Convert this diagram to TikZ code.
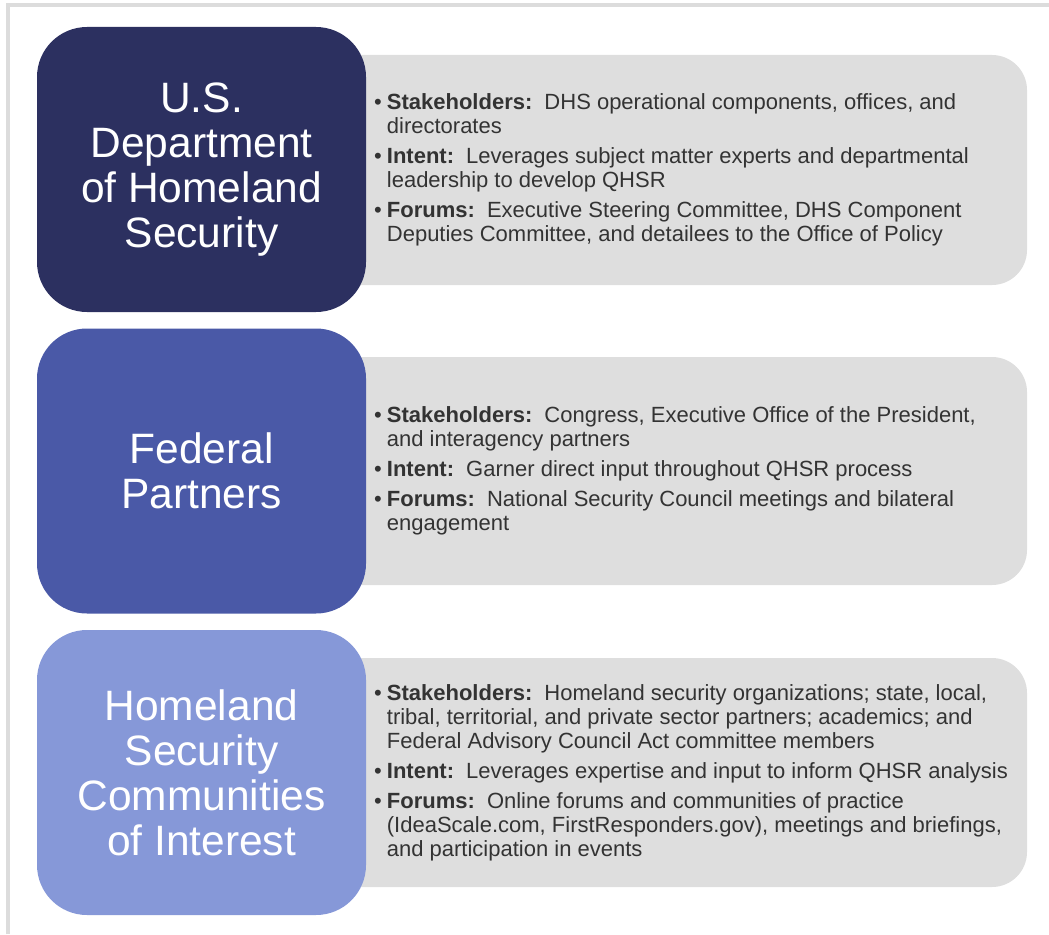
\documentclass[tikz,border=0pt]{standalone}
\usepackage{fontspec}
\setmainfont{Liberation Sans}
\definecolor{dhsnavy}{HTML}{2C3060}
\definecolor{fedblue}{HTML}{4A59A7}
\definecolor{coiblue}{HTML}{8698D8}
\definecolor{panelgray}{HTML}{DEDEDE}
\definecolor{framegray}{HTML}{DCDCDC}
\definecolor{textgray}{HTML}{333333}
\tikzset{
  unit/.style={rounded corners=50pt, minimum width=329pt, minimum height=285pt, inner sep=0pt,
    text=white, align=center, font=\fontsize{42.5}{45}\selectfont},
  info/.style={fill=panelgray, rounded corners=35pt, minimum width=727pt, inner sep=0pt},
  infotext/.style={anchor=west, inner sep=0pt, text=textgray, font=\fontsize{22}{24}\selectfont}
}
\newcommand{\lbl}[1]{\textbf{#1:}\hspace{0.55em}}

\begin{document}
\begin{tikzpicture}[x=1pt, y=-1pt]
  \useasboundingbox (0,0) rectangle (1049,934);
  \draw[framegray, line width=4pt] (8,934) -- (8,5.5) -- (1049,5.5);
  \node[info, minimum height=230pt] (dhsinfo) at (663.5,170) {};
  \node[info, minimum height=228pt] (fedinfo) at (663.5,471) {};
  \node[info, minimum height=229pt] (coiinfo) at (663.5,772.5) {};
  \node[unit, fill=dhsnavy] (dhs) at (201.5,169.5) {U.S.\\Department\\of Homeland\\Security};
  \node[unit, fill=fedblue] (fed) at (201.5,471) {Federal\\Partners};
  \node[unit, fill=coiblue] (coi) at (201.5,772.5) {Homeland\\Security\\Communities\\of Interest};
  \node[infotext] (dhstext) at (374,171) {\begin{tabular}{@{}l@{\hspace{5pt}}l@{}}
    \textbullet & \lbl{Stakeholders}DHS operational components, offices, and\\
    & directorates\\[6pt]
    \textbullet & \lbl{Intent}Leverages subject matter experts and departmental\\
    & leadership to develop QHSR\\[6pt]
    \textbullet & \lbl{Forums}Executive Steering Committee, DHS Component\\
    & Deputies Committee, and detailees to the Office of Policy
  \end{tabular}};
  \node[infotext] (fedtext) at (374,472) {\begin{tabular}{@{}l@{\hspace{5pt}}l@{}}
    \textbullet & \lbl{Stakeholders}Congress, Executive Office of the President,\\
    & and interagency partners\\[6pt]
    \textbullet & \lbl{Intent}Garner direct input throughout QHSR process\\[6pt]
    \textbullet & \lbl{Forums}National Security Council meetings and bilateral\\
    & engagement
  \end{tabular}};
  \node[infotext] (coitext) at (374,773.5) {\begin{tabular}{@{}l@{\hspace{5pt}}l@{}}
    \textbullet & \lbl{Stakeholders}Homeland security organizations; state, local,\\
    & tribal, territorial, and private sector partners; academics; and\\
    & Federal Advisory Council Act committee members\\[6pt]
    \textbullet & \lbl{Intent}Leverages expertise and input to inform QHSR analysis\\[6pt]
    \textbullet & \lbl{Forums}Online forums and communities of practice\\
    & (IdeaScale.com, FirstResponders.gov), meetings and briefings,\\
    & and participation in events
  \end{tabular}};
\end{tikzpicture}
\end{document}
